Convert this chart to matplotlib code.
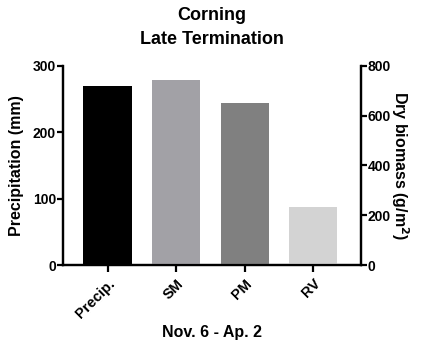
import matplotlib
matplotlib.use("Agg")
import matplotlib.pyplot as plt

plt.rcParams['font.family'] = ['Liberation Sans', 'DejaVu Sans']
plt.rcParams['font.weight'] = 'bold'

categories = ["Precip.", "SM", "PM", "RV"]
precip_mm = [270]
biomass = [744, 651, 233]
colors = ["#000000", "#a2a1a6", "#808080", "#d3d3d3"]

fig = plt.figure(figsize=(4.25, 3.52), dpi=100)
ax = fig.add_axes([0.148, 0.247, 0.701, 0.566])
ax2 = ax.twinx()

pos = list(range(len(categories)))
ax.bar(pos[0], precip_mm[0], width=0.7, color=colors[0])
ax2.bar(pos[1:], biomass, width=0.7, color=colors[1:])

ax.set_xlim(-0.65, 3.69)
ax.set_ylim(0, 300)
ax2.set_ylim(0, 800)
ax.set_yticks([0, 100, 200, 300])
ax2.set_yticks([0, 200, 400, 600, 800])
ax.set_xticks(pos)
ax.set_xticklabels(categories, rotation=45, ha='right', rotation_mode='anchor')

for a in (ax, ax2):
    a.spines['top'].set_visible(False)
    for s in a.spines.values():
        s.set_linewidth(1.6)
    a.tick_params(width=1.6, length=4, labelsize=10, pad=1)
ax.tick_params(axis='x', length=5, pad=3, labelsize=10.5)

ax.set_ylabel("Precipitation (mm)", fontsize=11.5, fontweight='bold', labelpad=6)
ax2.set_ylabel("Dry biomass (g/m$^\\mathbf{2}$)", fontsize=11.5, fontweight='bold', rotation=-90, labelpad=14)
ax.set_xlabel("Nov. 6 - Ap. 2", fontsize=11.5, fontweight='bold', labelpad=3)
ax.set_title("Corning\nLate Termination", fontsize=13, fontweight='bold', pad=16, linespacing=1.5)

fig.savefig("out.png", dpi=100)
